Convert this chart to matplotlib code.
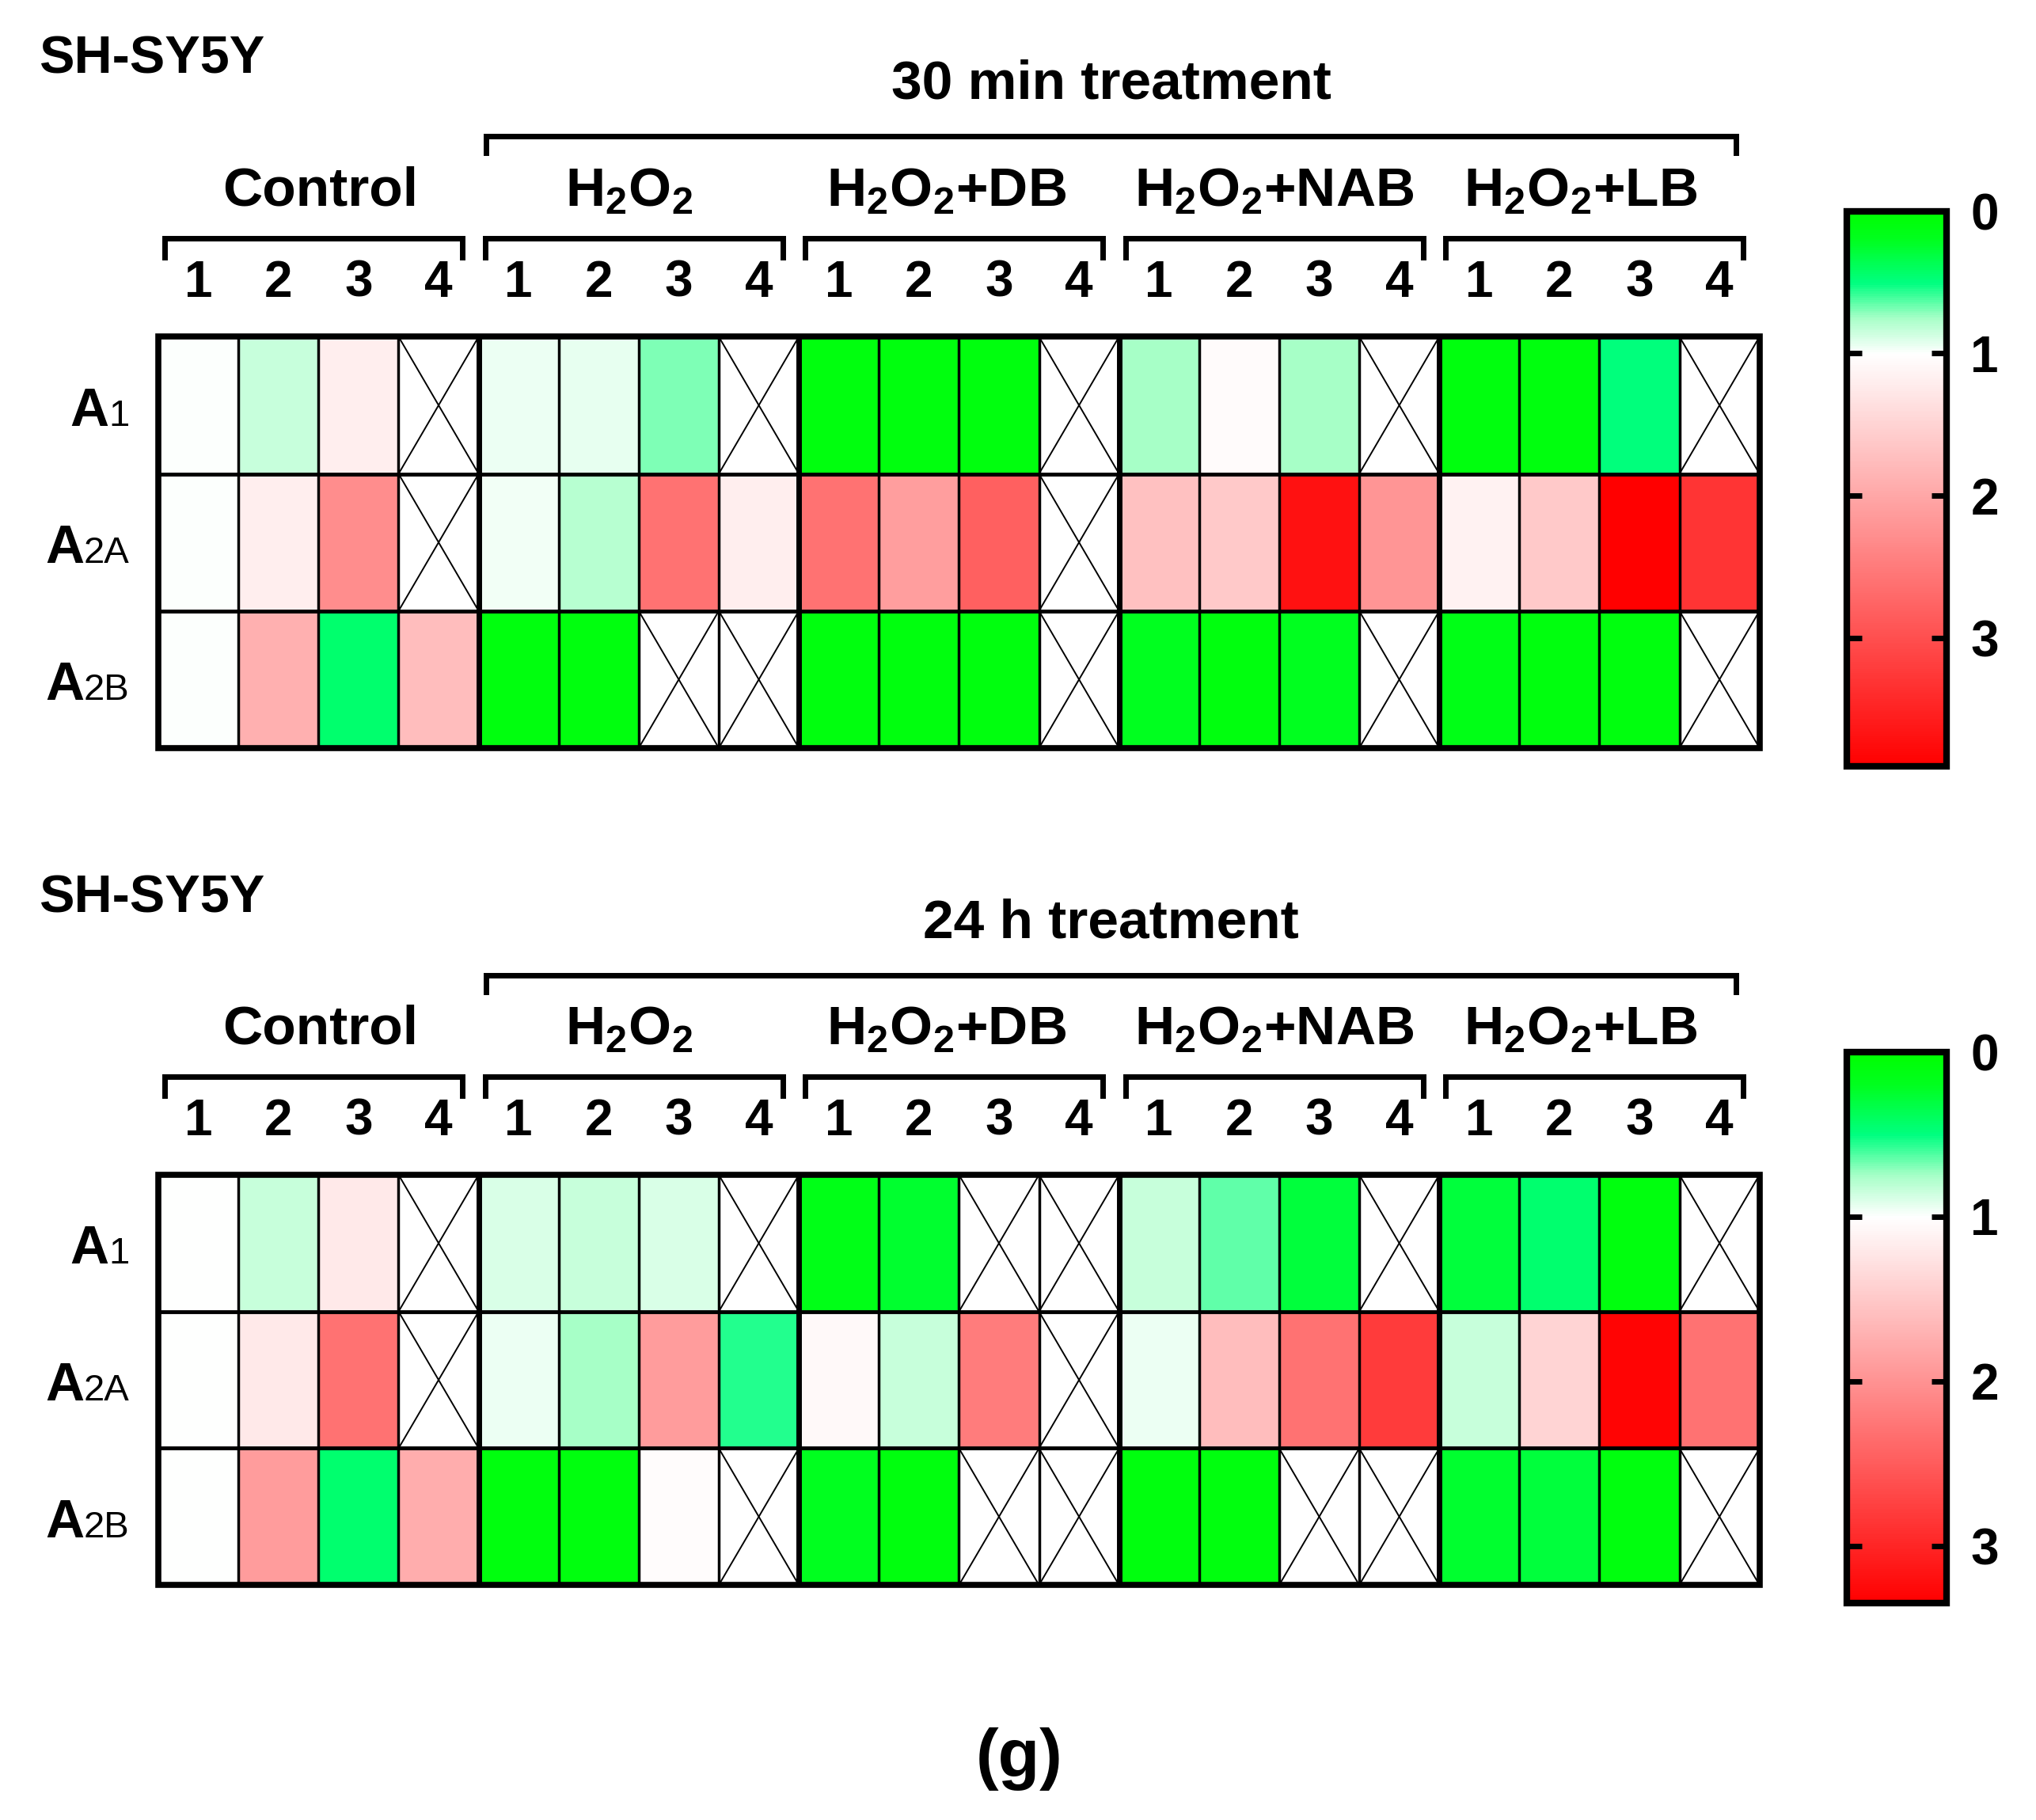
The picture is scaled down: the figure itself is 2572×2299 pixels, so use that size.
import numpy as np
import matplotlib.pyplot as plt
from matplotlib.colors import LinearSegmentedColormap

plt.rcParams['font.family'] = ['Liberation Sans', 'DejaVu Sans']
plt.rcParams['font.weight'] = 'bold'
plt.rcParams['mathtext.fontset'] = 'custom'
plt.rcParams['mathtext.rm'] = 'Liberation Sans:bold'
plt.rcParams['mathtext.bf'] = 'Liberation Sans:bold'
plt.rcParams['mathtext.it'] = 'Liberation Sans:bold'

# ---- data ----
groups = ['Control', r'H$_2$O$_2$', r'H$_2$O$_2$+DB', r'H$_2$O$_2$+NAB', r'H$_2$O$_2$+LB']
lanes = ['1', '2', '3', '4']
receptors = [('A', '1'), ('A', '2A'), ('A', '2B')]
nan = np.nan  # nan = crossed cell

# 30 min treatment (5 groups x 4 lanes)
min30_A1 = [1.0, 0.85, 1.2, nan, 0.95, 0.93, 0.7, nan, 0.1, 0.1, 0.1, nan,
            0.75, 1.05, 0.75, nan, 0.1, 0.1, 0.5, nan]
min30_A2A = [1.0, 1.2, 2.3, nan, 0.96, 0.8, 2.6, 1.2, 2.6, 2.1, 2.8, nan,
             1.7, 1.6, 3.7, 2.2, 1.15, 1.6, 3.9, 3.3]
min30_A2B = [1.0, 1.9, 0.45, 1.75, 0.1, 0.1, nan, nan, 0.1, 0.1, 0.1, nan,
             0.2, 0.1, 0.2, nan, 0.15, 0.1, 0.1, nan]
min30_max = 3.9

# 24 h treatment
h24_A1 = [1.0, 0.85, 1.2, nan, 0.9, 0.85, 0.9, nan, 0.15, 0.25, nan, nan,
          0.85, 0.65, 0.3, nan, 0.3, 0.45, 0.1, nan]
h24_A2A = [1.0, 1.2, 2.3, nan, 0.95, 0.75, 1.9, 0.55, 1.05, 0.85, 2.2, nan,
           0.95, 1.6, 2.3, 2.8, 0.85, 1.4, 3.3, 2.3]
h24_A2B = [1.0, 1.9, 0.45, 1.75, 0.1, 0.1, 1.03, nan, 0.2, 0.1, nan, nan,
           0.1, 0.1, nan, nan, 0.25, 0.3, 0.1, nan]
h24_max = 3.35


def make_cmap(vmax):
    nodes = [(0.0, '#00ff00'), (0.2, '#00ff20'), (0.5, '#00ff80'),
             (0.75, '#a8ffc8'), (1.0, '#ffffff'), (vmax, '#ff0000')]
    cm = LinearSegmentedColormap.from_list('gwr', [(v / vmax, c) for v, c in nodes])
    cm.set_bad('white')
    return cm


fig = plt.figure(figsize=(25.72, 22.99), dpi=100)

# small horizontal nudges of the group names (as in the original artwork)
label_shift = [0.08, -0.06, -0.1, 0.0, -0.18]


def draw_panel(ax, cax, rows, vmax, title):
    data = np.array(rows, dtype=float)
    im = ax.imshow(np.ma.masked_invalid(data), cmap=make_cmap(vmax), vmin=0, vmax=vmax,
                   aspect='auto', extent=(0, 20, 3, 0), interpolation='nearest')
    ax.set_xlim(0, 20)
    ax.set_ylim(3, 0)
    ax.axis('off')

    # crossed cells
    for r in range(3):
        for c in range(20):
            if np.isnan(data[r, c]):
                ax.plot([c, c + 1], [r, r + 1], color='k', lw=1.4)
                ax.plot([c, c + 1], [r + 1, r], color='k', lw=1.4)
    # grid
    for c in range(1, 20):
        ax.axvline(c, color='k', lw=5 if c % 4 == 0 else 2.5)
    for r in range(1, 3):
        ax.axhline(r, color='k', lw=3.5)
    ax.add_patch(plt.Rectangle((0, 0), 20, 3, fill=False, lw=5.5, ec='k', clip_on=False))

    # lane numbers, group brackets and labels
    for g, name in enumerate(groups):
        x0, x1 = 4 * g + 0.08, 4 * g + 3.8
        ax.plot([x0, x0, x1, x1], [-0.58, -0.72, -0.72, -0.58], color='k', lw=5,
                clip_on=False, solid_joinstyle='miter')
        ax.text((x0 + x1) / 2 + label_shift[g], -1.06, name, ha='center', va='center',
                fontsize=50)
        for i, lab in enumerate(lanes):
            ax.text(4 * g + i + 0.5, -0.39, lab, ha='center', va='center', fontsize=46)
    ax.plot([4.09, 4.09, 19.71, 19.71], [-1.34, -1.46, -1.46, -1.34], color='k', lw=5,
            clip_on=False, solid_joinstyle='miter')
    ax.text(11.9, -1.84, title, ha='center', va='center', fontsize=50)
    ax.text(-1.49, -2.02, 'SH-SY5Y', ha='left', va='center', fontsize=48)

    # receptor labels
    for r, (big, small) in enumerate(receptors):
        suf = ax.text(-0.36, r + 0.65, small, ha='right', va='baseline', fontsize=34,
                      fontweight='normal')
        ax.annotate(big, xy=(0, r + 0.65), xycoords=(suf, 'data'), ha='right',
                    va='baseline', fontsize=49)

    cb = fig.colorbar(im, cax=cax, ticks=[0, 1, 2, 3])
    cax.invert_yaxis()
    cb.outline.set_linewidth(6)
    cax.tick_params(direction='in', length=14, width=5, left=True, right=True,
                    labelsize=46, pad=22)


ax1 = fig.add_axes([0.0778, 0.589, 0.7864, 0.226])
cax1 = fig.add_axes([0.907, 0.579, 0.049, 0.305])
draw_panel(ax1, cax1, [min30_A1, min30_A2A, min30_A2B], min30_max, '30 min treatment')

ax2 = fig.add_axes([0.0778, 0.1291, 0.7864, 0.2254])
cax2 = fig.add_axes([0.907, 0.119, 0.049, 0.303])
draw_panel(ax2, cax2, [h24_A1, h24_A2A, h24_A2B], h24_max, '24 h treatment')

fig.text(0.5006, 0.0335, '(g)', ha='center', va='center', fontsize=62)

fig.savefig('out.png', dpi=100)
